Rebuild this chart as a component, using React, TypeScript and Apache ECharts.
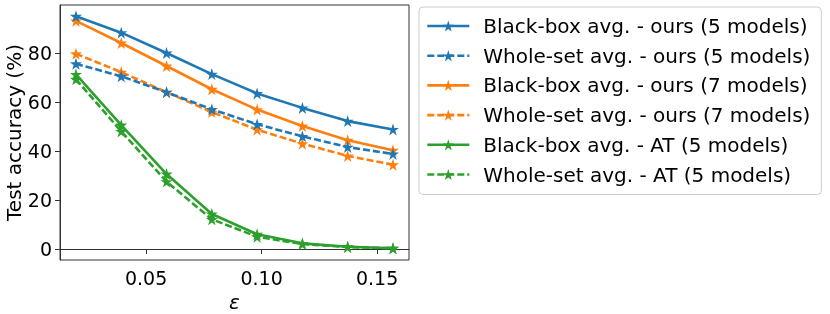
import React, { useEffect, useRef } from "react";
import * as echarts from "echarts";

const epsilons = [5 / 255, 10 / 255, 15 / 255, 20 / 255, 25 / 255, 30 / 255, 35 / 255, 40 / 255];
const blackBoxOurs5 = [95.0, 88.3, 80.0, 71.4, 63.5, 57.6, 52.2, 48.8];
const wholeSetOurs5 = [75.6, 70.5, 64.0, 57.0, 50.9, 46.0, 41.6, 38.8];
const blackBoxOurs7 = [93.1, 84.1, 74.7, 65.2, 56.9, 50.2, 44.4, 40.3];
const wholeSetOurs7 = [79.7, 72.2, 64.0, 55.9, 48.7, 43.0, 38.0, 34.4];
const blackBoxAT5 = [71.3, 50.6, 30.6, 14.3, 6.0, 2.3, 0.9, 0.3];
const wholeSetAT5 = [69.3, 48.0, 27.5, 12.1, 5.0, 2.0, 0.8, 0.3];

const seriesNames = [
  "Black-box avg. - ours (5 models)",
  "Whole-set avg. - ours (5 models)",
  "Black-box avg. - ours (7 models)",
  "Whole-set avg. - ours (7 models)",
  "Black-box avg. - AT (5 models)",
  "Whole-set avg. - AT (5 models)",
];
const xTicks = [0.05, 0.1, 0.15];
const yTicks = [0, 20, 40, 60, 80];

const STAR =
  "path://M50 0 L61.23 34.55 L97.55 34.55 L68.16 55.9 L79.39 90.45 L50 69.1 L20.61 90.45 L31.84 55.9 L2.45 34.55 L38.77 34.55 Z";

export default function App() {
  const ref = useRef<HTMLDivElement>(null);
  useEffect(() => {
    if (!ref.current) return;
    const chart = echarts.init(ref.current, null, { renderer: "svg" });
    const font = "DejaVu Sans";
    const colors = ["#1f77b4", "#1f77b4", "#ff7f0e", "#ff7f0e", "#2ca02c", "#2ca02c"];
    const datasets = [blackBoxOurs5, wholeSetOurs5, blackBoxOurs7, wholeSetOurs7, blackBoxAT5, wholeSetAT5];
    const series = datasets.map((vals, i) => ({
      name: seriesNames[i],
      type: "line",
      data: vals.map((v, j) => [epsilons[j], v]),
      symbol: STAR,
      symbolSize: 12,
      showSymbol: true,
      lineStyle: { color: colors[i], width: 2.6, type: i % 2 === 1 ? [7, 3] : "solid" },
      itemStyle: { color: colors[i] },
      z: 10 - i,
    }));
    chart.setOption({
      animation: false,
      textStyle: { fontFamily: font },
      grid: {
        left: 60,
        top: 5,
        width: 349,
        height: 255,
        outerBoundsMode: "none",
        containLabel: false,
        show: true,
        borderColor: "#333",
        borderWidth: 1,
        backgroundColor: "transparent",
      },
      xAxis: {
        type: "value",
        min: 0.0127,
        max: 0.1638,
        name: "ε",
        nameLocation: "middle",
        nameGap: 24,
        nameTextStyle: { fontSize: 20, fontStyle: "italic", color: "#000", fontFamily: font },
        axisLine: { show: true, lineStyle: { color: "#333", width: 1 } },
        axisTick: { show: true, length: 5, lineStyle: { color: "#333" }, customValues: xTicks },
        axisLabel: { fontSize: 19, color: "#000", margin: 8, fontFamily: font, customValues: xTicks, formatter: (v: number) => v.toFixed(2) },
        splitLine: { show: false },
      },
      yAxis: {
        type: "value",
        min: -4.5,
        max: 99.6,
        name: "Test accuracy (%)",
        nameLocation: "middle",
        nameGap: 36,
        nameTextStyle: { fontSize: 20, color: "#000", fontFamily: font },
        axisLine: { show: true, lineStyle: { color: "#333", width: 1 } },
        axisTick: { show: true, length: 5, lineStyle: { color: "#333" }, customValues: yTicks },
        axisLabel: { fontSize: 19, color: "#000", margin: 8, fontFamily: font, customValues: yTicks },
        splitLine: { show: false },
      },
      legend: {
        orient: "vertical",
        left: 419,
        top: 7,
        padding: [9, 11, 10, 7],
        itemWidth: 42,
        itemHeight: 14,
        itemGap: 9.7,
        borderColor: "#cccccc",
        borderWidth: 1,
        borderRadius: 4,
        backgroundColor: "#fff",
        lineStyle: { width: 2.6 },
        textStyle: { fontSize: 20, color: "#000", fontFamily: font, padding: [0, 0, 0, 9] },
        data: seriesNames,
      },
      series,
    });
    return () => chart.dispose();
  }, []);
  return <div ref={ref} style={{ position: "fixed", left: 0, top: 0, width: 830, height: 314 }} />;
}
